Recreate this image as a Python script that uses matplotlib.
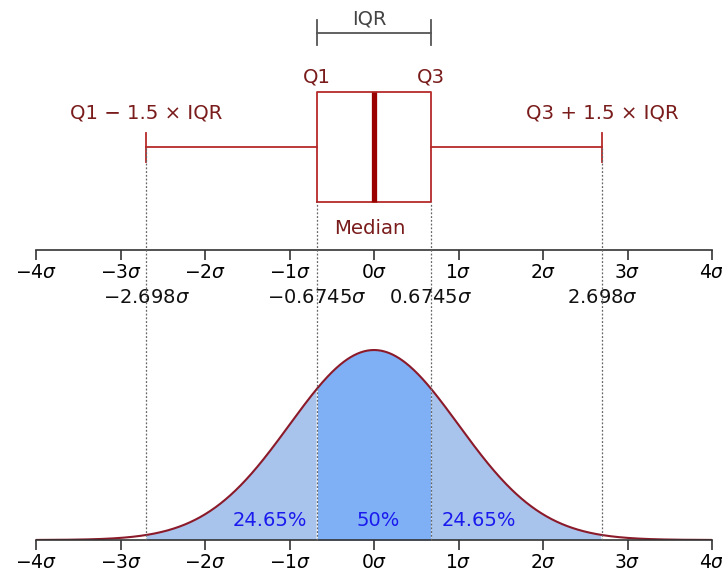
import numpy as np
import matplotlib
matplotlib.use('Agg')
import matplotlib.pyplot as plt
from matplotlib.lines import Line2D
from matplotlib.transforms import blended_transform_factory

# quartiles / whisker ends of a standard normal, in units of sigma
q1, med, q3 = -0.6745, 0.0, 0.6745
whislo, whishi = -2.698, 2.698
sigma_ticks = [-4, -3, -2, -1, 0, 1, 2, 3, 4]
mark_labels = ['-2.698', '-0.6745', '0.6745', '2.698']
mark_pos = [whislo, q1, q3, whishi]
pct_labels = ['24.65%', '50%', '24.65%']

dark_red = '#7a1c1c'
box_red = '#b52a2a'
fill_mid = '#7fb0f6'
fill_side = '#a8c4ec'

fig = plt.figure(figsize=(7.22, 5.70), dpi=100)
W, H = 722, 570
left, right = 36 / W, 712 / W
ax_top = fig.add_axes([left, 320 / H, right - left, 240 / H])
ax_bot = fig.add_axes([left, 30 / H, right - left, 250 / H])

for ax in (ax_top, ax_bot):
    ax.set_xlim(-4, 4)
    for s in ('top', 'left', 'right'):
        ax.spines[s].set_visible(False)
    ax.spines['bottom'].set_color('#333333')
    ax.spines['bottom'].set_linewidth(1.2)
    ax.set_yticks([])
    ax.set_xticks(sigma_ticks)
    ax.set_xticklabels([r'$%d\sigma$' % k for k in sigma_ticks])
    ax.tick_params(axis='x', length=7, width=1.2, color='#333333',
                   labelsize=13.5, pad=2)
    ax.patch.set_alpha(0)

# --- box plot -------------------------------------------------------------
ax_top.set_ylim(0, 240)
box_y, box_h = 103, 110
stats = [{'med': med, 'q1': q1, 'q3': q3, 'whislo': whislo,
          'whishi': whishi, 'fliers': []}]
ax_top.bxp(stats, positions=[box_y], widths=[box_h], capwidths=[29],
           vert=False, showfliers=False, manage_ticks=False,
           boxprops=dict(color=box_red, linewidth=1.3),
           whiskerprops=dict(color=box_red, linewidth=1.3),
           capprops=dict(color=box_red, linewidth=1.3),
           medianprops=dict(color='#9a0000', linewidth=3.8))

tk = dict(fontsize=14.2, color=dark_red, ha='center', va='center')
ax_top.text(q1, 173, 'Q1', **tk)
ax_top.text(q3, 173, 'Q3', **tk)
ax_top.text(whislo, 137, 'Q1 − 1.5 × IQR', **tk)
ax_top.text(whishi, 137, 'Q3 + 1.5 × IQR', **tk)
ax_top.text(med - 0.05, 22, 'Median', **tk)

# IQR bracket
ax_top.plot([q1, q3], [217, 217], color='#555555', lw=1.3)
ax_top.plot([q1, q1], [205, 230], color='#555555', lw=1.3)
ax_top.plot([q3, q3], [205, 230], color='#555555', lw=1.3)
ax_top.text(med - 0.05, 231, 'IQR', fontsize=14, color='#444444',
            ha='center', va='center')

# --- density ---------------------------------------------------------------
x = np.linspace(-4, 4, 801)
pdf = np.exp(-x ** 2 / 2) / np.sqrt(2 * np.pi)
ax_bot.set_ylim(0, 0.525)
side = ((x >= whislo) & (x <= q1)) | ((x >= q3) & (x <= whishi))
mid = (x >= q1) & (x <= q3)
ax_bot.fill_between(x, 0, pdf, where=side, color=fill_side, lw=0)
ax_bot.fill_between(x, 0, pdf, where=mid, color=fill_mid, lw=0)
ax_bot.plot(x, pdf, color='#8b1a2a', lw=1.5)

for p, lab in zip(mark_pos, mark_labels):
    ax_bot.text(p, 0.51, r'$%s\sigma$' % lab, fontsize=14, color='#111111',
                ha='center', va='center')

pk = dict(fontsize=14, color='#1a1aee', va='center')
ax_bot.text(q1 - 0.12, 0.04, pct_labels[0], ha='right', **pk)
ax_bot.text(med + 0.05, 0.04, pct_labels[1], ha='center', **pk)
ax_bot.text(q3 + 0.12, 0.04, pct_labels[2], ha='left', **pk)

# dotted guide lines running from the box plot down to the density
trans = blended_transform_factory(ax_bot.transData, fig.transFigure)
starts = [box_y, box_y - box_h / 2, box_y - box_h / 2, box_y]
for p, ys in zip(mark_pos, starts):
    y0 = fig.transFigure.inverted().transform(
        ax_top.transData.transform((p, ys)))[1]
    y1 = fig.transFigure.inverted().transform(
        ax_bot.transData.transform((p, 0)))[1]
    fig.add_artist(Line2D([p, p], [y1, y0], transform=trans,
                          color='#666666', lw=0.9, ls=(0, (1.5, 1.5)),
                          zorder=0.5))

fig.savefig('out.png', dpi=100)
